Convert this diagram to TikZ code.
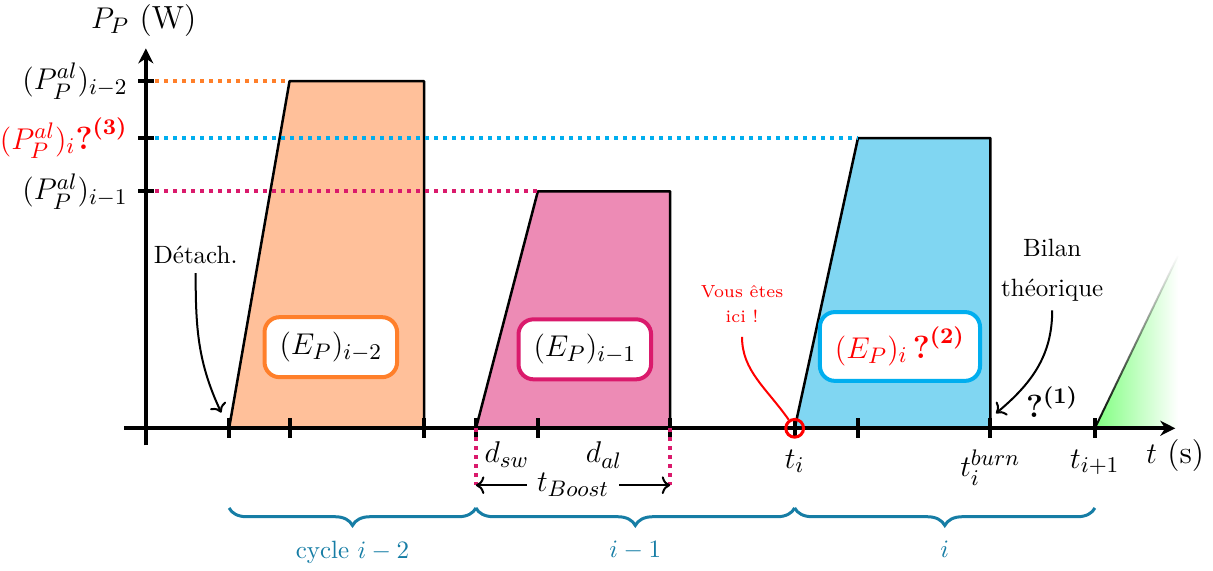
\documentclass[tikz,border=0pt]{standalone}
\usepackage{amsmath}
\usepackage{tikz}
\usetikzlibrary{positioning, arrows.meta, calc, decorations.pathreplacing, fadings}

\definecolor{orangeline}{RGB}{255,127,42}
\definecolor{orangefill}{RGB}{255,192,154}
\definecolor{pinkline}{RGB}{218,26,108}
\definecolor{pinkfill}{RGB}{237,139,181}
\definecolor{blueline}{RGB}{0,174,239}
\definecolor{bluefill}{RGB}{128,214,242}
\definecolor{bracecol}{RGB}{22,125,165}

\begin{document}
\begin{tikzpicture}[
    axisline/.style={ultra thick, -{Stealth[length=6pt, width=6pt]}},
    tickmark/.style={ultra thick},
    pulse/.style={draw=black, line width=1pt, line join=round},
    levelline/.style={ultra thick, dotted},
    energy/.style={
        draw,
        ultra thick,
        rounded corners=6pt,
        fill=white,
        inner xsep=6pt,
        inner ysep=6pt,
        font=\fontsize{12.8pt}{15pt}\selectfont
    },
    lbl/.style={font=\fontsize{12.8pt}{15pt}\selectfont},
    cycbrace/.style={decorate, decoration={brace, mirror, amplitude=7pt}, very thick, bracecol},
    cyclbl/.style={text=bracecol},
    note/.style={align=center},
    curvarrow/.style={->, thick}
]
    \useasboundingbox (-2.05,-2.0) rectangle (15.0,6.02);

    % Time instants
    \coordinate (ta1) at (1.17,0);
    \coordinate (tp1) at (2.02,0);
    \coordinate (te1) at (3.91,0);
    \coordinate (ta2) at (4.64,0);
    \coordinate (tp2) at (5.51,0);
    \coordinate (te2) at (7.37,0);
    \coordinate (ti) at (9.12,0);
    \coordinate (tp3) at (10.01,0);
    \coordinate (tburn) at (11.87,0);
    \coordinate (tnext) at (13.34,0);

    % Power levels
    \coordinate (pa) at (0,4.88);
    \coordinate (pi) at (0,4.08);
    \coordinate (pb) at (0,3.33);

    % Pulses
    \filldraw[pulse, fill=orangefill] (ta1) -- (tp1 |- pa) -- (te1 |- pa) -- (te1) -- cycle;
    \filldraw[pulse, fill=pinkfill] (ta2) -- (tp2 |- pb) -- (te2 |- pb) -- (te2) -- cycle;
    \filldraw[pulse, fill=bluefill] (ti) -- (tp3 |- pi) -- (tburn |- pi) -- (tburn) -- cycle;

    % Level lines
    \draw[levelline, orangeline] ($(pa)+(0.13,0)$) -- (tp1 |- pa);
    \draw[levelline, blueline] ($(pi)+(0.13,0)$) -- (tp3 |- pi);
    \draw[levelline, pinkline] ($(pb)+(0.13,0)$) -- (tp2 |- pb);

    % Next cycle
    \coordinate (nexttop) at (14.51,2.43);
    \shade[left color=green!50, right color=white] (tnext) -- (nexttop) -- (nexttop |- tnext) -- cycle;
    \draw[thick, path fading=north] (tnext) -- (nexttop);

    % Axes
    \draw[axisline] (-0.3,0) -- (14.47,0);
    \draw[axisline] (0,-0.24) -- (0,5.34);
    \node[lbl] (ylabel) at (-0.03,5.73) {$P_P$ (W)};
    \node[lbl] (xlabel) at (14.47,-0.38) {$t$ (s)};

    % Ticks
    \foreach \c in {ta1,tp1,te1,ta2,tp2,te2,ti,tp3,tburn,tnext}
        \draw[tickmark] ($(\c)+(0,0.14)$) -- ($(\c)+(0,-0.14)$);
    \foreach \c in {pa,pi,pb}
        \draw[tickmark] ($(\c)+(-0.11,0)$) -- ($(\c)+(0.11,0)$);

    % Level labels
    \node[lbl, anchor=east] (lblpa) at (-0.13,4.88) {$(P_P^{al})_{i-2}$};
    \node[lbl, anchor=east, red] (lblpi) at (-0.13,4.08) {$(P_P^{al})_i\textbf{?}^{\textbf{(3)}}$};
    \node[lbl, anchor=east] (lblpb) at (-0.13,3.33) {$(P_P^{al})_{i-1}$};

    % Energy boxes
    \node[energy, draw=orangeline] (ea) at (2.60,1.14) {$(E_P)_{i-2}$};
    \node[energy, draw=pinkline] (eb) at (6.17,1.11) {$(E_P)_{i-1}$};
    \node[energy, draw=blueline, text=red] (ei) at (10.60,1.15) {$(E_P)_i\,\textbf{?}^{\textbf{(2)}}$};

    % Boost duration
    \coordinate (bl) at ($(ta2)+(0,-0.80)$);
    \coordinate (br) at ($(te2)+(0,-0.80)$);
    \draw[levelline, pinkline] (ta2) -- (bl);
    \draw[levelline, pinkline] (te2) -- (br);
    \draw[<->, thick] (bl) -- (br);
    \node[lbl, fill=white, inner xsep=4pt] (tboost) at ($(bl)!0.5!(br)$) {$t_{Boost}$};

    % Instant labels
    \coordinate (dswmid) at ($(ta2)!0.5!(tp2)$);
    \coordinate (dalmid) at ($(tp2)!0.5!(te2)$);
    \node[lbl, below=0.07cm of dswmid] (dsw) {$d_{sw}$};
    \node[lbl, below=0.07cm of dalmid] (dal) {$d_{al}$};
    \node[lbl, below=0.18cm of ti] (tilbl) {$t_i$};
    \node[lbl, below=0.18cm of tburn] (tburnlbl) {$t_i^{burn}$};
    \node[lbl, below=0.18cm of tnext] (tnextlbl) {$t_{i+1}$};

    % Cycle braces
    \coordinate (b1) at ($(ta1)+(0,-1.12)$);
    \coordinate (b2) at ($(ta2)+(0,-1.12)$);
    \coordinate (b3) at ($(ti)+(0,-1.12)$);
    \coordinate (b4) at ($(tnext)+(0,-1.12)$);
    \draw[cycbrace] (b1) -- (b2) node[midway, below=0.33cm, cyclbl] (cyc1) {cycle $i-2$};
    \draw[cycbrace] (b2) -- (b3) node[midway, below=0.33cm, cyclbl] (cyc2) {$i-1$};
    \draw[cycbrace] (b3) -- (b4) node[midway, below=0.33cm, cyclbl] (cyc3) {$i$};

    % Annotations
    \node[note] (detach) at (0.70,2.43) {Détach.};
    \coordinate (detachend) at (1.06,0.22);
    \draw[curvarrow] (detach.south) to[out=-90, in=115] (detachend);

    \node[note, red, font=\scriptsize] (vous) at (8.38,1.74) {Vous êtes\\[2pt]ici !};
    \node[draw=red, very thick, circle, minimum size=0.25cm, inner sep=0pt] (here) at (ti) {};
    \draw[red, thick, shorten <=2pt] (vous.south) to[out=-90, in=125] (here);

    \node[note] (bilan) at (12.74,2.22) {Bilan\\[4pt]théorique};
    \coordinate (bilanend) at (11.95,0.21);
    \draw[curvarrow] (bilan.south) to[out=-90, in=40] (bilanend);
    \node[lbl] (q1) at (12.74,0.37) {$\textbf{?}^{\textbf{(1)}}$};

\end{tikzpicture}
\end{document}
